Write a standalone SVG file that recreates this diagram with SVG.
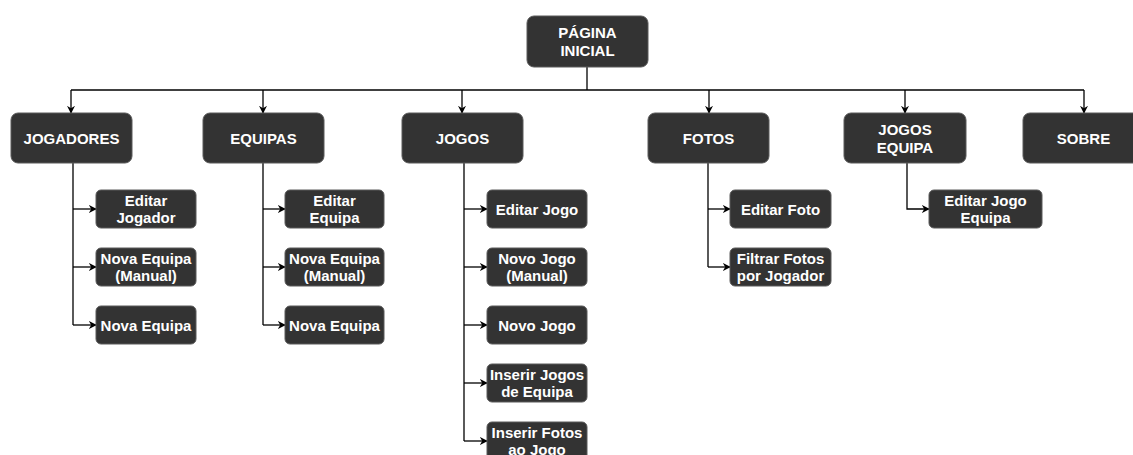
<svg xmlns="http://www.w3.org/2000/svg" width="1133" height="455" viewBox="0 0 1133 455">
  <style>
    .box { fill: #333333; stroke: #5a5a5a; stroke-width: 1; }
    .lbl { fill: #ffffff; font-family: "Liberation Sans", Arial, sans-serif; font-weight: bold; font-size: 15px; text-anchor: middle; }
    .edge { fill: none; stroke: #000000; stroke-width: 1.3; }
  </style>
  <defs>
    <marker id="arrow" viewBox="0 0 10 10" refX="9" refY="5" markerWidth="8" markerHeight="8" markerUnits="userSpaceOnUse" orient="auto">
      <path d="M0,0 L10,5 L0,10 L3,5 Z" fill="#000000"/>
    </marker>
  </defs>

  <rect width="1133" height="455" fill="#ffffff"/>

  <!-- connectors -->
  <g id="connectors" class="edge">
    <path d="M587,67 V90"/>
    <path d="M71,90 H1084"/>
    <path d="M71,90 V113" marker-end="url(#arrow)"/>
    <path d="M263,90 V113" marker-end="url(#arrow)"/>
    <path d="M462,90 V113" marker-end="url(#arrow)"/>
    <path d="M709,90 V113" marker-end="url(#arrow)"/>
    <path d="M905,90 V113" marker-end="url(#arrow)"/>
    <path d="M1084,90 V113" marker-end="url(#arrow)"/>

    <!-- Jogadores -->
    <path d="M73,163 V325"/>
    <path d="M73,209 H96" marker-end="url(#arrow)"/>
    <path d="M73,267 H96" marker-end="url(#arrow)"/>
    <path d="M73,325 H96" marker-end="url(#arrow)"/>

    <!-- Equipas -->
    <path d="M263,163 V325"/>
    <path d="M263,209 H285" marker-end="url(#arrow)"/>
    <path d="M263,267 H285" marker-end="url(#arrow)"/>
    <path d="M263,325 H285" marker-end="url(#arrow)"/>

    <!-- Jogos -->
    <path d="M464,163 V441"/>
    <path d="M464,209 H487" marker-end="url(#arrow)"/>
    <path d="M464,267 H487" marker-end="url(#arrow)"/>
    <path d="M464,325 H487" marker-end="url(#arrow)"/>
    <path d="M464,383 H487" marker-end="url(#arrow)"/>
    <path d="M464,441 H487" marker-end="url(#arrow)"/>

    <!-- Fotos -->
    <path d="M708,163 V267"/>
    <path d="M708,209 H730" marker-end="url(#arrow)"/>
    <path d="M708,267 H730" marker-end="url(#arrow)"/>

    <!-- Jogos Equipa -->
    <path d="M907,163 V209 H929" marker-end="url(#arrow)"/>
  </g>

  <!-- root -->
  <g id="pagina-inicial">
    <rect class="box" x="527" y="16" width="121" height="51" rx="7"/>
    <text class="lbl" x="587.5" y="38.3">PÁGINA</text>
    <text class="lbl" x="587.5" y="56">INICIAL</text>
  </g>

  <!-- top-level sections -->
  <g id="jogadores">
    <rect class="box" x="11" y="113" width="121" height="50" rx="7"/>
    <text class="lbl" x="71.5" y="143.5">JOGADORES</text>
  </g>
  <g id="equipas">
    <rect class="box" x="203" y="113" width="121" height="50" rx="7"/>
    <text class="lbl" x="263.5" y="143.5">EQUIPAS</text>
  </g>
  <g id="jogos">
    <rect class="box" x="402" y="113" width="121" height="50" rx="7"/>
    <text class="lbl" x="462.5" y="143.5">JOGOS</text>
  </g>
  <g id="fotos">
    <rect class="box" x="648" y="113" width="121" height="50" rx="7"/>
    <text class="lbl" x="708.5" y="143.5">FOTOS</text>
  </g>
  <g id="jogos-equipa">
    <rect class="box" x="844" y="113" width="122" height="50" rx="7"/>
    <text class="lbl" x="905" y="135">JOGOS</text>
    <text class="lbl" x="905" y="153">EQUIPA</text>
  </g>
  <g id="sobre">
    <rect class="box" x="1023" y="113" width="121" height="50" rx="7"/>
    <text class="lbl" x="1083.5" y="143.5">SOBRE</text>
  </g>

  <!-- Jogadores pages -->
  <g id="editar-jogador">
    <rect class="box" x="96" y="190" width="100" height="38" rx="5"/>
    <text class="lbl" x="146" y="205.6">Editar</text>
    <text class="lbl" x="146" y="223.1">Jogador</text>
  </g>
  <g id="nova-equipa-manual-1">
    <rect class="box" x="96" y="248" width="100" height="38" rx="5"/>
    <text class="lbl" x="146" y="263.6">Nova Equipa</text>
    <text class="lbl" x="146" y="281.1">(Manual)</text>
  </g>
  <g id="nova-equipa-1">
    <rect class="box" x="96" y="306" width="100" height="38" rx="5"/>
    <text class="lbl" x="146" y="330.5">Nova Equipa</text>
  </g>

  <!-- Equipas pages -->
  <g id="editar-equipa">
    <rect class="box" x="285" y="190" width="99" height="38" rx="5"/>
    <text class="lbl" x="334.5" y="205.6">Editar</text>
    <text class="lbl" x="334.5" y="223.1">Equipa</text>
  </g>
  <g id="nova-equipa-manual-2">
    <rect class="box" x="285" y="248" width="99" height="38" rx="5"/>
    <text class="lbl" x="334.5" y="263.6">Nova Equipa</text>
    <text class="lbl" x="334.5" y="281.1">(Manual)</text>
  </g>
  <g id="nova-equipa-2">
    <rect class="box" x="285" y="306" width="99" height="38" rx="5"/>
    <text class="lbl" x="334.5" y="330.5">Nova Equipa</text>
  </g>

  <!-- Jogos pages -->
  <g id="editar-jogo">
    <rect class="box" x="487" y="190" width="100" height="38" rx="5"/>
    <text class="lbl" x="537" y="214.5">Editar Jogo</text>
  </g>
  <g id="novo-jogo-manual">
    <rect class="box" x="487" y="248" width="100" height="38" rx="5"/>
    <text class="lbl" x="537" y="263.6">Novo Jogo</text>
    <text class="lbl" x="537" y="281.1">(Manual)</text>
  </g>
  <g id="novo-jogo">
    <rect class="box" x="487" y="306" width="100" height="38" rx="5"/>
    <text class="lbl" x="537" y="330.5">Novo Jogo</text>
  </g>
  <g id="inserir-jogos-equipa">
    <rect class="box" x="487" y="364" width="100" height="38" rx="5"/>
    <text class="lbl" x="537" y="379.6">Inserir Jogos</text>
    <text class="lbl" x="537" y="397.1">de Equipa</text>
  </g>
  <g id="inserir-fotos-jogo">
    <rect class="box" x="487" y="422" width="100" height="38" rx="5"/>
    <text class="lbl" x="537" y="437.6">Inserir Fotos</text>
    <text class="lbl" x="537" y="455.1">ao Jogo</text>
  </g>

  <!-- Fotos pages -->
  <g id="editar-foto">
    <rect class="box" x="730" y="190" width="101" height="38" rx="5"/>
    <text class="lbl" x="780.5" y="214.5">Editar Foto</text>
  </g>
  <g id="filtrar-fotos">
    <rect class="box" x="730" y="248" width="101" height="38" rx="5"/>
    <text class="lbl" x="780.5" y="263.6">Filtrar Fotos</text>
    <text class="lbl" x="780.5" y="281.1">por Jogador</text>
  </g>

  <!-- Jogos Equipa pages -->
  <g id="editar-jogo-equipa">
    <rect class="box" x="929" y="190" width="113" height="38" rx="5"/>
    <text class="lbl" x="985.5" y="205.6">Editar Jogo</text>
    <text class="lbl" x="985.5" y="223.1">Equipa</text>
  </g>
</svg>
